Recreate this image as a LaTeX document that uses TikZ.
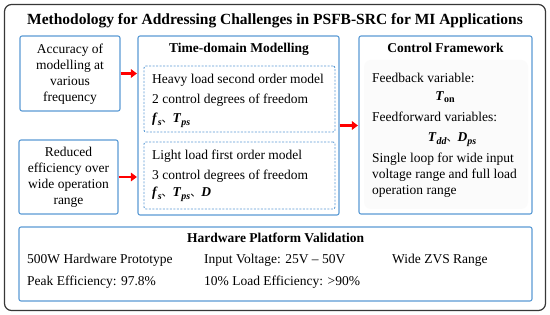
\documentclass[tikz,border=0pt]{standalone}
\usepackage{fontspec}
\setmainfont{Liberation Serif}
\newfontfamily\cjk{Noto Sans CJK SC}
\usetikzlibrary{arrows.meta}
\definecolor{bbox}{RGB}{91,155,213}
\definecolor{outerc}{RGB}{55,55,55}
\newcommand\bv[1]{\textbf{\textit{#1}}}
\newcommand\bsub[1]{\raisebox{-0.35ex}{\fontsize{10}{10}\selectfont\bfseries\itshape #1}}
\newcommand\bsubu[1]{\raisebox{-0.35ex}{\fontsize{10}{10}\selectfont\bfseries #1}}
\newcommand\dun{{\cjk\fontsize{11}{11}\selectfont 、}}
\begin{document}
\begin{tikzpicture}[x=1pt,y=-1pt,
  bluebox/.style={draw=bbox, line width=1.1pt, rounded corners=2pt, inner sep=0pt},
  dashbox/.style={draw=bbox, line width=0.9pt, dash pattern=on 2pt off 1.5pt, rounded corners=2pt, inner sep=0pt},
  txt/.style={font=\fontsize{13.5}{16}\selectfont, inner sep=0pt},
  ttl/.style={font=\fontsize{13.5}{16}\selectfont\bfseries, inner sep=0pt},
  redarrow/.style={draw=red, line width=2.6pt, -{Triangle[length=6pt,width=8.5pt]}, shorten >=0.5pt}]
\useasboundingbox (0,0) rectangle (550,315);
\fill[white] (0,0) rectangle (550,315);
% outer frame
\draw[outerc, line width=1.2pt, rounded corners=7pt] (4.5,4.5) rectangle (545.5,310.5);
\node[inner sep=0pt, anchor=base, font=\fontsize{15.5}{18}\selectfont\bfseries] (title) at (275,25)
  {Methodology for Addressing Challenges in PSFB-SRC for MI Applications};

% boxes
\node[bluebox, minimum width=100pt, minimum height=75pt] (acc) at (70,73.5) {};
\node[bluebox, minimum width=99pt, minimum height=74pt] (red) at (68.5,177) {};
\node[bluebox, minimum width=201pt, minimum height=179pt] (tdm) at (238.5,125.5) {};
\node[dashbox, minimum width=191pt, minimum height=66pt] (hvy) at (239.5,99) {};
\node[dashbox, minimum width=191pt, minimum height=67pt] (lgt) at (239.5,175.5) {};
\fill[black!1.5, rounded corners=7pt] (364,60) rectangle (528,209);
\node[bluebox, minimum width=173pt, minimum height=178pt] (ctl) at (445.5,125) {};
\node[bluebox, minimum width=513pt, minimum height=74pt] (hw) at (275.5,264) {};

% left box texts
\node[txt, anchor=base] (a1) at (70,54) {Accuracy of};
\node[txt, anchor=base] (a2) at (70,70) {modelling at};
\node[txt, anchor=base] (a3) at (70,86) {various};
\node[txt, anchor=base] (a4) at (70,102) {frequency};
\node[txt, anchor=base] (r1) at (68.5,157) {Reduced};
\node[txt, anchor=base] (r2) at (68.5,173) {efficiency over};
\node[txt, anchor=base] (r3) at (68.5,189) {wide operation};
\node[txt, anchor=base] (r4) at (68.5,205) {range};

% time-domain
\node[ttl, anchor=base] (tdmt) at (239,53) {Time-domain Modelling};
\node[txt, anchor=base west] (h1) at (152,84) {Heavy load second order model};
\node[txt, anchor=base west] (h2) at (152,103.5) {2 control degrees of freedom};
\node[txt, anchor=base west] (h3) at (152,123) {\bv{f}\bsub{s}\dun\bv{T}\bsub{ps}};
\node[txt, anchor=base west] (l1) at (152,160) {Light load first order model};
\node[txt, anchor=base west] (l2) at (152,179.5) {3 control degrees of freedom};
\node[txt, anchor=base west] (l3) at (152,197) {\bv{f}\bsub{s}\dun\bv{T}\bsub{ps}\dun\bv{D}};

% control framework
\node[ttl, anchor=base] (ctlt) at (445.5,53) {Control Framework};
\node[txt, anchor=base west] (c1) at (372,82.5) {Feedback variable:};
\node[txt, anchor=base] (c2) at (445,100.5) {\bv{T}\bsubu{on}};
\node[txt, anchor=base west] (c3) at (372,121.5) {Feedforward variables:};
\node[txt, anchor=base] (c4) at (452,142) {\bv{T}\bsub{dd}\dun\bv{D}\bsub{ps}};
\node[txt, anchor=base west] (c5) at (372,163) {Single loop for wide input};
\node[txt, anchor=base west] (c6) at (372,179) {voltage range and full load};
\node[txt, anchor=base west] (c7) at (372,195) {operation range};

% hardware
\node[ttl, anchor=base] (hwt) at (275.5,242.5) {Hardware Platform Validation};
\node[txt, anchor=base west] (w1) at (27,263.5) {500W Hardware Prototype};
\node[txt, anchor=base west] (w2) at (204,263.5) {Input Voltage: 25V -- 50V};
\node[txt, anchor=base west] (w3) at (392,263.5) {Wide ZVS Range};
\node[txt, anchor=base west] (w4) at (27,286) {Peak Efficiency: 97.8\%};
\node[txt, anchor=base west] (w5) at (204,286) {10\% Load Efficiency: >90\%};

% arrows
\draw[redarrow] (acc.east) -- (acc.east -| tdm.west);
\draw[redarrow] (red.east) -- (red.east -| tdm.west);
\draw[redarrow] (tdm.east) -- (tdm.east -| ctl.west);
\end{tikzpicture}
\end{document}
